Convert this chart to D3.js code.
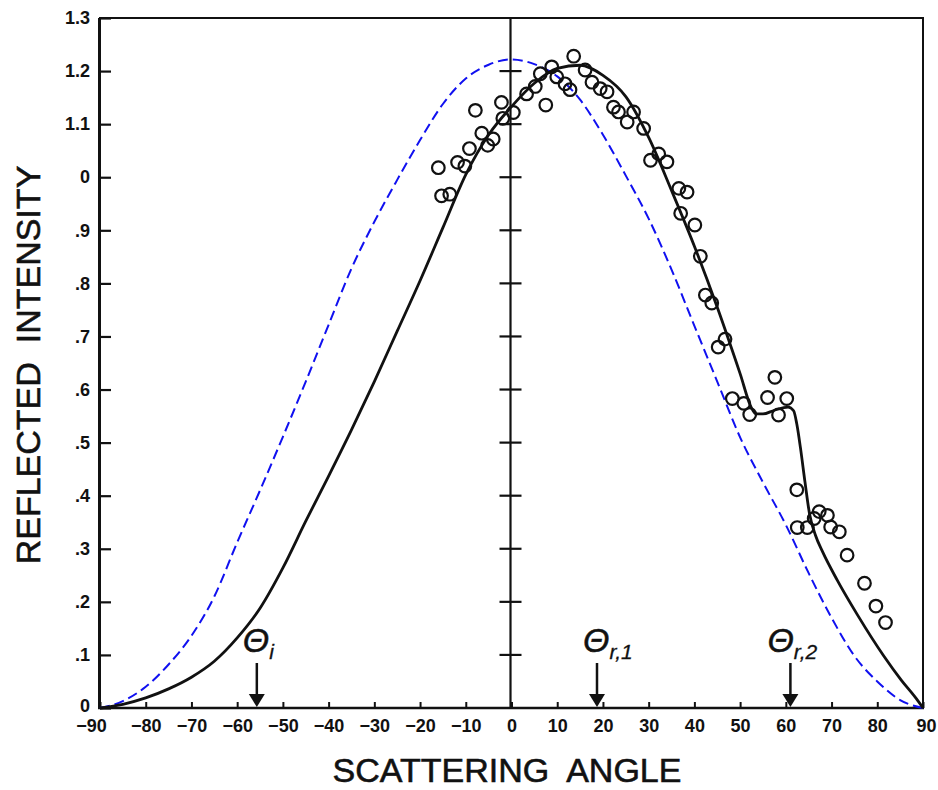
<!DOCTYPE html>
<html>
<head>
<meta charset="utf-8">
<script src="https://cdn.jsdelivr.net/npm/d3@7/dist/d3.min.js"></script>
<style>
  body { margin: 0; background: #fff; }
  svg { display: block; }
</style>
</head>
<body>
<svg id="chart" width="938" height="790"></svg>
<script>
// ---- axis ticks ----
const angleTicks = [-90, -80, -70, -60, -50, -40, -30, -20, -10, 0, 10, 20, 30, 40, 50, 60, 70, 80, 90];
const angleTickLabels = ["−90", "−80", "−70", "−60", "−50", "−40", "−30", "−20", "−10", "0", "10", "20", "30", "40", "50", "60", "70", "80", "90"];
const intensityTicks = [0, 0.1, 0.2, 0.3, 0.4, 0.5, 0.6, 0.7, 0.8, 0.9, 1.0, 1.1, 1.2, 1.3];
const intensityTickLabels = ["0", ".1", ".2", ".3", ".4", ".5", ".6", ".7", ".8", ".9", "0", "1.1", "1.2", "1.3"];

// ---- specular reference curve (dashed) ----
const specularAngle = [-90, -85, -80, -75, -70, -65, -60, -55, -50, -45, -40, -35, -30, -25, -20, -15, -10, -5, 0, 5, 10, 15, 20, 25, 30, 35, 40, 45, 50, 55, 60, 65, 70, 75, 80, 85, 90];
const specularIntensity = [0, 0.013, 0.040, 0.082, 0.136, 0.210, 0.312, 0.410, 0.511, 0.615, 0.722, 0.828, 0.916, 0.995, 1.070, 1.138, 1.186, 1.212, 1.222, 1.213, 1.190, 1.146, 1.080, 1.003, 0.922, 0.826, 0.720, 0.615, 0.510, 0.425, 0.345, 0.254, 0.170, 0.098, 0.050, 0.015, 0];

// ---- model curve (solid) ----
const modelAngle = [-90, -85, -80, -75, -70, -65, -60, -55, -50, -45, -40, -35, -30, -25, -20, -15, -10, -5, 0, 5, 10, 15, 20, 25, 30, 35, 40, 45, 50, 52.5, 53.5, 55, 57.5, 60.5, 61.7, 62.4, 63.2, 64.2, 65.2, 66.5, 68, 71.3, 75.7, 81.5, 85.2, 88.5, 90];
const modelIntensity = [0, 0.007, 0.019, 0.036, 0.058, 0.088, 0.132, 0.188, 0.264, 0.352, 0.437, 0.524, 0.615, 0.710, 0.805, 0.905, 1.005, 1.080, 1.133, 1.177, 1.205, 1.211, 1.192, 1.152, 1.075, 0.975, 0.870, 0.755, 0.630, 0.565, 0.554, 0.554, 0.561, 0.567, 0.560, 0.535, 0.490, 0.425, 0.365, 0.325, 0.295, 0.240, 0.175, 0.097, 0.053, 0.018, 0];

// ---- measured intensities (circles) ----
const measuredAngle = [-16.0, -15.3, -13.5, -11.8, -10.2, -9.2, -7.9, -6.5, -5.2, -4.0, -2.2, -1.9, 0.4, 3.3, 5.2, 6.3, 7.5, 8.8, 9.9, 11.7, 12.8, 13.6, 16.1, 17.6, 19.4, 20.9, 22.3, 23.4, 25.3, 26.7, 28.9, 30.4, 32.2, 34.0, 36.6, 38.4, 37.0, 40.1, 41.3, 42.4, 43.8, 46.7, 45.2, 57.6, 48.3, 50.8, 52.1, 56.0, 58.4, 60.2, 62.4, 62.5, 64.7, 66.2, 67.3, 69.1, 69.8, 71.7, 73.4, 77.2, 79.7, 81.8];
const measuredIntensity = [1.018, 0.965, 0.968, 1.028, 1.021, 1.054, 1.126, 1.083, 1.060, 1.072, 1.141, 1.111, 1.122, 1.157, 1.171, 1.195, 1.136, 1.208, 1.189, 1.176, 1.165, 1.228, 1.202, 1.179, 1.167, 1.161, 1.132, 1.123, 1.104, 1.123, 1.092, 1.032, 1.044, 1.029, 0.979, 0.972, 0.932, 0.910, 0.851, 0.778, 0.763, 0.695, 0.680, 0.623, 0.583, 0.574, 0.553, 0.585, 0.552, 0.583, 0.411, 0.340, 0.340, 0.357, 0.370, 0.363, 0.341, 0.332, 0.288, 0.235, 0.192, 0.161];

// ---- angle markers ----
const markerSubscripts = ["i", "r,1", "r,2"];
const markerAngles = [-55.7, 18.7, 61.0];

// ---------------------------------------------------------------
const svg = d3.select("#chart");
const plotLeft = 100, plotRight = 923, plotTop = 18, plotBottom = 708;

const x = d3.scaleLinear().domain([-90, 90]).range([plotLeft, plotRight]);
const y = d3.scaleLinear().domain([0, 1.3]).range([plotBottom, plotTop]);

const tickFont = "'Liberation Sans', Arial, sans-serif";

// frame
svg.append("rect")
  .attr("x", plotLeft).attr("y", plotTop)
  .attr("width", plotRight - plotLeft).attr("height", plotBottom - plotTop)
  .attr("fill", "none").attr("stroke", "#111").attr("stroke-width", 2);
svg.append("line")
  .attr("x1", plotLeft - 1).attr("x2", plotLeft - 1).attr("y1", plotTop).attr("y2", plotBottom + 1)
  .attr("stroke", "#111").attr("stroke-width", 2);

// left axis
const yAxis = d3.axisLeft(y)
  .tickValues(intensityTicks)
  .tickFormat((d, i) => intensityTickLabels[i])
  .tickSizeInner(-11).tickSizeOuter(0).tickPadding(10);
const gy = svg.append("g").attr("transform", `translate(${plotLeft},0)`).call(yAxis);
gy.select(".domain").remove();
gy.selectAll(".tick line").attr("stroke", "#111").attr("stroke-width", 2.2);
gy.selectAll(".tick text")
  .attr("font-family", tickFont).attr("font-weight", "bold")
  .attr("font-size", 18).attr("fill", "#111")
  .attr("dy", d => d === 0 ? "0.2em" : "0.32em");

// bottom axis
const xAxis = d3.axisBottom(x)
  .tickValues(angleTicks)
  .tickFormat((d, i) => angleTickLabels[i])
  .tickSizeInner(-6).tickSizeOuter(0).tickPadding(11);
const gx = svg.append("g").attr("transform", `translate(0,${plotBottom})`).call(xAxis);
gx.select(".domain").remove();
gx.selectAll(".tick line").attr("stroke", "#111").attr("stroke-width", 2);
gx.selectAll(".tick text")
  .attr("font-family", tickFont).attr("font-weight", "bold")
  .attr("font-size", 18).attr("fill", "#111")
  .attr("dx", d => d === -90 ? -9 : (d === 90 ? 3 : 0));
svg.append("line")
  .attr("x1", plotLeft - 2).attr("x2", plotRight + 1).attr("y1", plotBottom).attr("y2", plotBottom)
  .attr("stroke", "#111").attr("stroke-width", 2.5);

// central vertical scale at zero angle
const x0 = x(0) - 1;
svg.append("line")
  .attr("x1", x0).attr("x2", x0).attr("y1", y(1.3)).attr("y2", y(0))
  .attr("stroke", "#111").attr("stroke-width", 2.2);
svg.append("g").selectAll("line")
  .data(intensityTicks.filter(v => v > 0 && v < 1.3))
  .join("line")
  .attr("x1", x0 - 11).attr("x2", x0 + 11)
  .attr("y1", d => y(d)).attr("y2", d => y(d))
  .attr("stroke", "#111").attr("stroke-width", 2.2);

// curves
const line = d3.line()
  .x(d => x(d[0])).y(d => y(d[1]))
  .curve(d3.curveMonotoneX);

svg.append("path")
  .datum(specularAngle.map((a, i) => [a, specularIntensity[i]]))
  .attr("d", line)
  .attr("fill", "none").attr("stroke", "#1010f0")
  .attr("stroke-width", 2).attr("stroke-dasharray", "10,5");

svg.append("path")
  .datum(modelAngle.map((a, i) => [a, modelIntensity[i]]))
  .attr("d", line)
  .attr("fill", "none").attr("stroke", "#111")
  .attr("stroke-width", 2.8).attr("stroke-linejoin", "round");

// measured points
svg.append("g").selectAll("circle")
  .data(measuredAngle.map((a, i) => [a, measuredIntensity[i]]))
  .join("circle")
  .attr("cx", d => x(d[0])).attr("cy", d => y(d[1]))
  .attr("r", 6.3)
  .attr("fill", "none").attr("stroke", "#111").attr("stroke-width", 2.2);

// angle markers with arrows
const labelDx = [-14, -14, -23];
const markers = svg.append("g");
markerAngles.forEach((a, i) => {
  const mx = x(a);
  markers.append("line")
    .attr("x1", mx).attr("x2", mx).attr("y1", 663).attr("y2", 696)
    .attr("stroke", "#111").attr("stroke-width", 2.5);
  markers.append("path")
    .attr("d", `M${mx - 8},${694} L${mx + 8},${694} L${mx},${707} Z`)
    .attr("fill", "#111");
  const t = markers.append("text")
    .attr("x", mx + labelDx[i]).attr("y", 652)
    .attr("font-family", "'Liberation Sans', Arial, sans-serif")
    .attr("font-style", "italic")
    .attr("font-size", 34).attr("fill", "#111")
    .attr("stroke", "#111").attr("stroke-width", 0.5)
    .text("Θ");
  t.append("tspan")
    .attr("font-size", 21).attr("dy", 7).attr("stroke-width", 0.3)
    .text(markerSubscripts[i]);
});

// axis titles
svg.append("text")
  .attr("transform", "translate(40,365) rotate(-90)")
  .attr("text-anchor", "middle")
  .attr("font-family", "'Liberation Sans', Arial, sans-serif")
  .attr("font-size", 34).attr("fill", "#111")
  .attr("stroke", "#111").attr("stroke-width", 0.6)
  .attr("xml:space", "preserve")
  .text("REFLECTED  INTENSITY");

svg.append("text")
  .attr("x", 507).attr("y", 782)
  .attr("text-anchor", "middle")
  .attr("font-family", "'Liberation Sans', Arial, sans-serif")
  .attr("font-size", 34).attr("fill", "#111")
  .attr("stroke", "#111").attr("stroke-width", 0.6)
  .attr("xml:space", "preserve")
  .text("SCATTERING  ANGLE");
</script>
</body>
</html>
